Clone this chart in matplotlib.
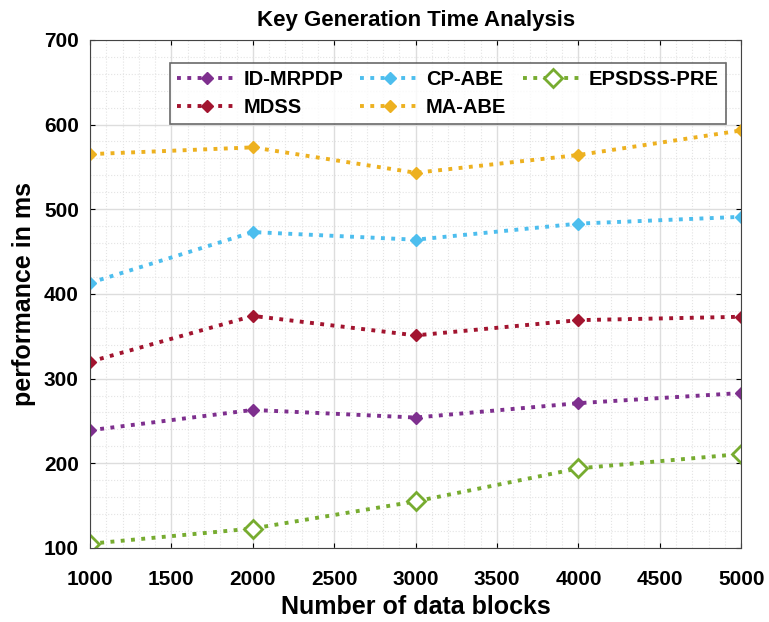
import matplotlib
matplotlib.use("Agg")
import matplotlib.pyplot as plt
from matplotlib.ticker import MultipleLocator

plt.rcParams['font.family'] = ['Liberation Sans', 'DejaVu Sans']
plt.rcParams['font.weight'] = 'bold'

x = [1000, 2000, 3000, 4000, 5000]
id_mrpdp = [239, 263, 254, 271, 283]
mdss = [320, 374, 351, 369, 373]
cp_abe = [413, 473, 464, 483, 491]
ma_abe = [565, 573, 543, 564, 593]
epsdss = [105, 123, 155, 194, 211]

fig = plt.figure(figsize=(7.69, 6.22), dpi=100)
ax = fig.add_axes([0.117, 0.119, 0.847, 0.817])

lw = 2.8
ax.plot(x, id_mrpdp, ':', color='#7E2F8E', lw=lw, marker='D', ms=6, label='ID-MRPDP')
ax.plot(x, mdss, ':', color='#A2142F', lw=lw, marker='D', ms=6, label='MDSS')
ax.plot(x, cp_abe, ':', color='#4DBEEE', lw=lw, marker='D', ms=6, label='CP-ABE')
ax.plot(x, ma_abe, ':', color='#EDB120', lw=lw, marker='D', ms=6, label='MA-ABE')
ax.plot(x, epsdss, ':', color='#77AC30', lw=lw, marker='D', ms=9, mfc='white',
        mew=2, label='EPSDSS-PRE')

ax.set_xlim(1000, 5000)
ax.set_ylim(100, 700)
ax.xaxis.set_major_locator(MultipleLocator(500))
ax.yaxis.set_major_locator(MultipleLocator(100))
ax.xaxis.set_minor_locator(MultipleLocator(100))
ax.yaxis.set_minor_locator(MultipleLocator(20))
ax.grid(True, which='major', color='#dddddd', lw=1)
ax.grid(True, which='minor', color='#e4e4e4', lw=0.8, ls=':')
ax.tick_params(which='both', direction='in', top=True, right=True, labelsize=15)
ax.tick_params(axis='x', pad=16)
ax.tick_params(axis='y', pad=8)
ax.tick_params(which='minor', length=0)
for s in ax.spines.values():
    s.set_color('#444444')

ax.set_title('Key Generation Time Analysis', fontsize=16, fontweight='bold', pad=10)
ax.set_xlabel('Number of data blocks', fontsize=18, fontweight='bold', labelpad=4)
ax.set_ylabel('performance in ms', fontsize=18, fontweight='bold', labelpad=6)

leg = ax.legend(ncol=3, loc='upper right', bbox_to_anchor=(0.992, 0.975), fontsize=14.5,
                frameon=True, fancybox=False, edgecolor='#444444', handlelength=3.0,
                columnspacing=0.8, handletextpad=0.3, borderpad=0.35, labelspacing=0.45)
leg.get_frame().set_linewidth(1.2)

fig.savefig('out.png', dpi=100)
